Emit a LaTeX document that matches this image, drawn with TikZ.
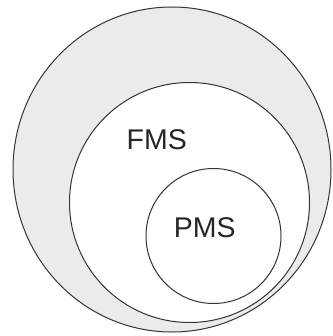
\documentclass[tikz,border=0pt]{standalone}
\usepackage{fontspec}
\setmainfont{Liberation Sans}
\begin{document}
\begin{tikzpicture}[x=1pt,y=-1pt,
  ringline/.style={draw=black!80,line width=1pt},
  ring/.style={circle,ringline,inner sep=0pt},
  lbl/.style={font=\fontsize{28.5}{28.5}\selectfont,text=black!85,inner sep=0pt,anchor=base}]
\useasboundingbox (0,0) rectangle (332,336);
\draw[ringline,fill=black!8] (172,169.5) ellipse [x radius=159, y radius=162.5];
\node[ring,fill=white,minimum size=240pt] (fms) at (189.5,202.5) {};
\node[ring,fill=white,minimum size=135pt] (pms) at (213.5,236) {};
\node[lbl] (fmslbl) at (156.7,150) {FMS};
\node[lbl] (pmslbl) at (204.7,237.3) {PMS};
\end{tikzpicture}
\end{document}
